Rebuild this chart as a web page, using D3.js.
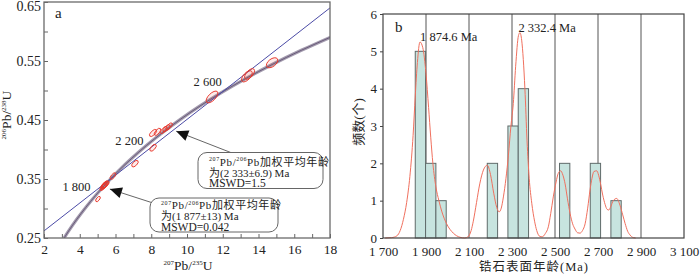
<!DOCTYPE html>
<html><head><meta charset="utf-8">
<script src="https://cdn.jsdelivr.net/npm/d3@7"></script>
<style>
body{margin:0;background:#fff}
svg{display:block}
text{font-family:"Liberation Serif","Times New Roman",serif;fill:#222}
.cjk{font-family:"Liberation Serif","Noto Sans CJK SC",serif}
</style>
</head><body>
<svg id="c" width="700" height="275"></svg>
<script>
// ---------- Panel a data ----------
const xTicksA = [2,3,4,5,6,7,8,9,10,11,12,13,14,15,16,17,18];
const xLabelsA = [2,4,6,8,10,12,14,16,18];
const yTicksA = [0.25,0.30,0.35,0.40,0.45,0.50,0.55,0.60,0.65];
const yLabelsA = [0.25,0.35,0.45,0.55,0.65];
// concordia points (Ma, 207Pb/235U, 206Pb/238U)
const concAge = [1400,1500,1600,1700,1800,1900,2000,2100,2200,2300,2400,2500,2600,2700,2800,2900,3000];
const concX = [2.970,3.381,3.834,4.335,4.887,5.496,6.169,6.911,7.729,8.633,9.630,10.730,11.944,13.283,14.762,16.393,18.193];
const concY = [0.2426,0.2620,0.2817,0.3018,0.3221,0.3428,0.3638,0.3851,0.4067,0.4287,0.4511,0.4738,0.4968,0.5202,0.5440,0.5681,0.5926];
const ageLabelAges = [1800,2200,2600];
const ageLabelText = ["1 800","2 200","2 600"];
// discordia line
const discX = [2,18];
const discY = [0.262,0.640];
// analysis ellipses: centre, half errors, correlation
const ellX  = [5.35,5.40,5.30,5.45,5.38,5.02,5.86,7.09,8.10,8.10,8.35,8.85,9.00,8.70,11.40,13.35,13.50,14.76];
const ellY  = [0.338,0.340,0.336,0.341,0.339,0.316,0.355,0.376,0.403,0.428,0.430,0.436,0.439,0.433,0.489,0.524,0.528,0.547];
const ellSX = [0.18,0.20,0.17,0.19,0.15,0.13,0.16,0.18,0.18,0.20,0.18,0.20,0.18,0.18,0.33,0.30,0.28,0.32];
const ellSY = [0.0058,0.0062,0.0056,0.0060,0.0050,0.0045,0.0055,0.0055,0.0058,0.0060,0.0060,0.0060,0.0060,0.0060,0.0100,0.0095,0.0090,0.0085];
const ellR  = [0.65,0.60,0.70,0.60,0.70,0.60,0.65,0.60,0.60,0.65,0.65,0.70,0.70,0.70,0.64,0.60,0.60,0.50];

// ---------- Panel b data ----------
const xTicksB = [1700,1900,2100,2300,2500,2700,2900,3100];
const gridB = [1900,2100,2300,2500,2700,2900];
const yTicksB = [0,1,2,3,4,5,6];
const binStart = [1850,1898,1946,2185,2281,2329,2521,2664,2760];
const binEnd   = [1898,1946,1994,2233,2329,2377,2569,2712,2808];
const binCount = [5,2,1,2,3,4,2,2,1];
const pdfAge = [1710,1740,1765,1780,1795,1810,1825,1840,1850,1860,1872,1885,1900,1912,1922,1932,1946,1960,1973,1996,2027,2058,2080,2095,2110,2120,2135,2150,2167,2185,2200,2215,2229,2240,2250,2260,2272,2283,2295,2306,2317,2330,2337,2345,2360,2370,2380,2392,2405,2415,2430,2440,2455,2469,2480,2492,2505,2515,2526,2537,2547,2558,2570,2582,2593,2605,2616,2628,2640,2652,2663,2672,2681,2694,2703,2712,2722,2733,2742,2750,2760,2771,2787,2802,2815,2826,2838,2849,2864,2875];
const pdfVal = [0,0.01,0.06,0.2,0.5,0.95,1.65,2.75,3.8,4.7,5.25,5.1,4.4,3.5,2.7,2.0,1.37,1.0,0.72,0.38,0.13,0.02,0,0.03,0.2,0.45,0.95,1.45,1.82,1.95,1.7,1.2,0.82,0.7,0.8,1.1,1.6,2.2,3.0,3.6,4.6,5.42,5.5,5.3,4.0,2.6,1.6,0.93,0.45,0.2,0.04,0.03,0.12,0.3,0.65,1.1,1.5,1.73,1.8,1.68,1.45,1.05,0.66,0.38,0.24,0.14,0.13,0.2,0.38,0.8,1.29,1.6,1.78,1.8,1.68,1.45,1.15,0.9,0.77,0.75,0.85,1.0,1.06,0.88,0.62,0.39,0.18,0.08,0.01,0];
const peakAges = [1874.6,2332.4];
const peakText = ["1 874.6 Ma","2 332.4 Ma"];

// ---------- drawing ----------
const svg = d3.select("#c");
const serif = '"Liberation Serif","Times New Roman",serif';

function supText(sel, parts, size, supSize){
  let prevSup = false;
  parts.forEach(([t,s])=>{
    const ts = sel.append("tspan").text(t).attr("font-size", s?supSize:size);
    if (s && !prevSup) ts.attr("dy", -size*0.38);
    if (!s && prevSup) ts.attr("dy", size*0.38);
    prevSup = s;
  });
}

// ===== Panel a =====
const A = {l:44,r:330,t:2,b:238};
const xA = d3.scaleLinear().domain([2,18]).range([A.l,A.r]);
const yA = d3.scaleLinear().domain([0.25,0.65]).range([A.b,A.t]);
const ga = svg.append("g");
ga.append("clipPath").attr("id","clipA").append("rect")
  .attr("x",A.l).attr("y",A.t).attr("width",A.r-A.l).attr("height",A.b-A.t);

const axB = ga.append("g").attr("transform",`translate(0,${A.b})`)
  .call(d3.axisBottom(xA).tickValues(xTicksA).tickSize(-4).tickPadding(6)
    .tickFormat(d=> xLabelsA.includes(d)? d : ""));
axB.select(".domain").remove();
axB.selectAll("line").attr("stroke","#666");
axB.selectAll("text").attr("font-size",13.5).attr("font-family",serif).attr("fill","#222");

const axL = ga.append("g").attr("transform",`translate(${A.l},0)`)
  .call(d3.axisLeft(yA).tickValues(yTicksA).tickSize(-4).tickPadding(3)
    .tickFormat(d=> yLabelsA.some(v=>Math.abs(v-d)<1e-6)? d3.format(".2f")(d) : ""));
axL.select(".domain").remove();
axL.selectAll("line").attr("stroke","#666");
axL.selectAll("text").attr("font-size",14).attr("font-family",serif).attr("fill","#222")
  .filter(d=>Math.abs(d-0.65)<1e-6).attr("dy","0.58em");

const plotA = ga.append("g").attr("clip-path","url(#clipA)");
const concPts = concAge.map((a,i)=>[xA(concX[i]),yA(concY[i])]);
const lineGen = d3.line().curve(d3.curveNatural);
plotA.append("path").attr("d",lineGen(concPts)).attr("fill","none")
  .attr("stroke","#a39bae").attr("stroke-width",3.2);
plotA.append("path").attr("d",lineGen(concPts)).attr("fill","none")
  .attr("stroke","#5a4a6c").attr("stroke-width",0.8);
plotA.append("line").attr("x1",xA(discX[0])).attr("y1",yA(discY[0]))
  .attr("x2",xA(discX[1])).attr("y2",yA(discY[1]))
  .attr("stroke","#4b4ba6").attr("stroke-width",1);

ellX.forEach((x,i)=>{
  const a = ellSX[i]*(xA(1)-xA(0));
  const b = ellSY[i]*(yA(0)-yA(1));
  const c = -ellR[i]*a*b;
  const m = (a*a+b*b)/2, d = Math.sqrt(((a*a-b*b)/2)**2 + c*c);
  const l1 = m+d, l2 = Math.max(m-d,0.01);
  const th = 0.5*Math.atan2(2*c, a*a-b*b)*180/Math.PI;
  plotA.append("ellipse")
    .attr("transform",`translate(${xA(x)},${yA(ellY[i])}) rotate(${th})`)
    .attr("rx",Math.sqrt(l1)).attr("ry",Math.sqrt(l2))
    .attr("fill","rgba(235,60,50,0.10)").attr("stroke","#e8382c").attr("stroke-width",0.9);
});

const labOff = [[-5,-4],[-3,-0.5],[0,-6]];
ageLabelAges.forEach((age,i)=>{
  const k = concAge.indexOf(age);
  ga.append("text").attr("x",xA(concX[k])+labOff[i][0]).attr("y",yA(concY[k])+labOff[i][1])
    .attr("text-anchor","end").attr("font-size",12.5).text(ageLabelText[i]);
});

ga.append("rect").attr("x",A.l).attr("y",A.t).attr("width",A.r-A.l).attr("height",A.b-A.t)
  .attr("fill","none").attr("stroke","#6a6a6a").attr("stroke-width",1.3);

ga.append("text").attr("x",55).attr("y",18).attr("font-size",15).text("a");

supText(ga.append("text").attr("x",188).attr("y",270).attr("text-anchor","middle"),
  [["207",true],["Pb/",false],["235",true],["U",false]],13.5,7);
supText(ga.append("text").attr("transform","translate(11,115) rotate(-90)").attr("text-anchor","middle"),
  [["206",true],["Pb/",false],["238",true],["U",false]],13.5,7);

function arrow(tail, tip){
  ga.append("line").attr("x1",tail[0]).attr("y1",tail[1]).attr("x2",tip[0]).attr("y2",tip[1])
    .attr("stroke","#555").attr("stroke-width",0.9);
  const dx = tail[0]-tip[0], dy = tail[1]-tip[1], L = Math.hypot(dx,dy);
  const ux = dx/L, uy = dy/L, len = 12, hw = 5.5;
  const bx = tip[0]+ux*len, by = tip[1]+uy*len;
  ga.append("polygon").attr("points",
    `${tip[0]},${tip[1]} ${bx-uy*hw},${by+ux*hw} ${bx+uy*hw},${by-ux*hw}`).attr("fill","#111");
}
function callout(x,y,w,h,age,mswd,l1){
  ga.append("rect").attr("x",x).attr("y",y).attr("width",w).attr("height",h)
    .attr("rx",9).attr("fill","#fff").attr("stroke","#666").attr("stroke-width",1);
  const t1 = ga.append("text").attr("x",x+11).attr("y",y+l1).attr("class","cjk");
  supText(t1,[["207",true],["Pb/",false],["206",true],["Pb加权平均年龄",false]],11,6);
  t1.attr("letter-spacing",0.6);
  ga.append("text").attr("x",x+11).attr("y",y+l1+11).attr("font-size",11).attr("class","cjk")
    .text("为("+age+") Ma");
  ga.append("text").attr("x",x+11).attr("y",y+l1+21.5).attr("font-size",11.5).text("MSWD="+mswd);
}
arrow([232,153],[xA(8.95)+8, yA(0.436)+3]);
arrow([153,203],[xA(5.35)+6, yA(0.338)+3]);
callout(198,152.5,125,36,"2 333±6.9","1.5",13);
callout(150,198,128,34,"1 877±13","0.042",11);

// ===== Panel b =====
const B = {l:383,r:684,t:14,b:238};
const xB = d3.scaleLinear().domain([1700,3100]).range([B.l,B.r]);
const yB = d3.scaleLinear().domain([0,6]).range([B.b,B.t]);
const gb = svg.append("g");

gb.selectAll("line.grid").data(gridB).join("line")
  .attr("x1",d=>xB(d)).attr("x2",d=>xB(d)).attr("y1",B.t).attr("y2",B.b)
  .attr("stroke","#555").attr("stroke-width",1);

gb.selectAll("rect.bar").data(binCount).join("rect")
  .attr("x",(d,i)=>xB(binStart[i])).attr("width",(d,i)=>xB(binEnd[i])-xB(binStart[i]))
  .attr("y",d=>yB(d)).attr("height",d=>yB(0)-yB(d))
  .attr("fill","#c7e4df").attr("stroke","#5f6b6a").attr("stroke-width",1);

gb.append("path").attr("d", d3.line().curve(d3.curveMonotoneX)(pdfAge.map((a,i)=>[xB(a),yB(pdfVal[i])])))
  .attr("fill","none").attr("stroke","#f0705e").attr("stroke-width",1);

const axBx = gb.append("g").attr("transform",`translate(0,${B.b})`)
  .call(d3.axisBottom(xB).tickValues(xTicksB).tickSize(0).tickPadding(9)
    .tickFormat(d=>{const s=String(d); return s[0]+" "+s.slice(1);}));
axBx.select(".domain").remove();
axBx.selectAll("text").attr("font-size",13).attr("font-family",serif).attr("fill","#222");

const axBy = gb.append("g").attr("transform",`translate(${B.l},0)`)
  .call(d3.axisLeft(yB).tickValues(yTicksB).tickSize(3).tickPadding(3).tickFormat(d3.format("d")));
axBy.select(".domain").remove();
axBy.selectAll("line").attr("stroke","#444");
axBy.selectAll("text").attr("font-size",13).attr("font-family",serif).attr("fill","#222");

gb.append("rect").attr("x",B.l).attr("y",B.t).attr("width",B.r-B.l).attr("height",B.b-B.t)
  .attr("fill","none").attr("stroke","#444").attr("stroke-width",1.2);

gb.append("text").attr("x",395).attr("y",32).attr("font-size",15).text("b");
const peakY = [41,32];
peakAges.forEach((a,i)=>{
  gb.append("text").attr("x",xB(a)-0.5).attr("y",peakY[i]).attr("font-size",12.5).text(peakText[i]);
});

gb.append("text").attr("transform","translate(363,122) rotate(-90)").attr("text-anchor","middle")
  .attr("class","cjk").attr("font-size",13).text("频数(个)");
gb.append("text").attr("x",534).attr("y",271).attr("text-anchor","middle")
  .attr("class","cjk").attr("font-size",12.5).attr("letter-spacing",1).text("锆石表面年龄(Ma)");
</script>
</body></html>
